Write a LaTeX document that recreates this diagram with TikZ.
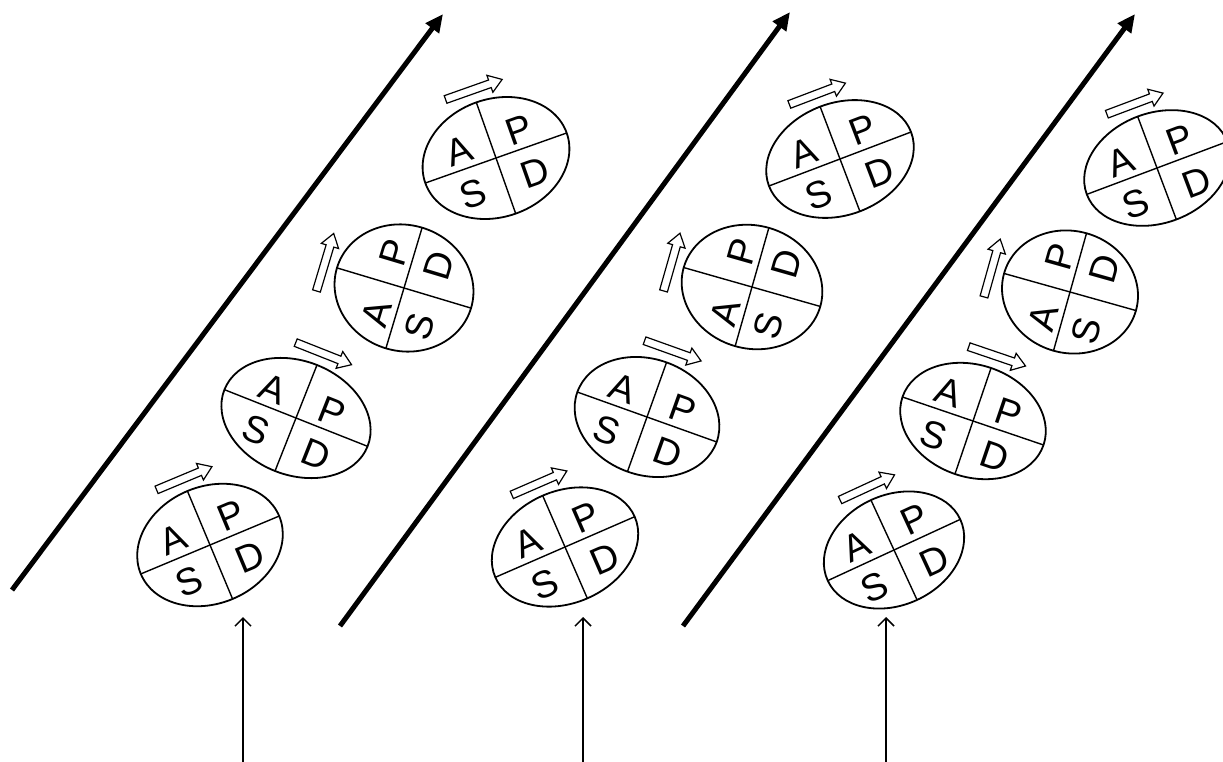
\documentclass[tikz,border=0pt]{standalone}
\usepackage{fontspec}
\setmainfont{Liberation Sans}
\usetikzlibrary{arrows.meta}

\tikzset{
  cellline/.style={line width=1.8pt},
  divline/.style={line width=1.4pt},
  letter/.style={font=\fontsize{38}{38}\selectfont, inner sep=0pt, transform shape},
  turnarrow/.style={line width=1.2pt, fill=white, line join=miter},
  trendarrow/.style={line width=5pt, -{Triangle[length=18pt,width=16pt]}},
  inputarrow/.style={line width=1.5pt, -{Straight Barb[length=8pt,width=16pt]}},
}

% One PDSA cycle: name, centre, tilt, x radius, y radius
\newcommand\pdsacell[5]{%
  \begin{scope}[shift={#2}, rotate=#3]
    \draw[cellline] (0,0) ellipse [x radius=#4pt, y radius=#5pt];
    \draw[divline] (-#4,0) -- (#4,0);
    \draw[divline] (0,-#5) -- (0,#5);
    \node[letter] (#1-A) at (-32,19) {A};
    \node[letter] (#1-P) at (31,19) {P};
    \node[letter] (#1-S) at (-33,-26) {S};
    \node[letter] (#1-D) at (32,-27) {D};
    \draw[turnarrow] (-28,#5+9) -- (19,#5+9) -- (19,#5+4) -- (32,#5+13)
      -- (19,#5+22) -- (19,#5+17) -- (-28,#5+17) -- cycle;
  \end{scope}}

\begin{document}
\begin{tikzpicture}[x=1pt, y=1pt]
  \fill[white] (0,0) rectangle (1223,-762);
  \useasboundingbox (0,0) rectangle (1223,-762);

  % improvement trends
  \coordinate (t1s) at (12,-590);   \coordinate (t1e) at (443,-14);
  \coordinate (t2s) at (340,-626);  \coordinate (t2e) at (790,-12);
  \coordinate (t3s) at (683,-626);  \coordinate (t3e) at (1135,-14);
  \draw[trendarrow] (t1s) -- (t1e);
  \draw[trendarrow] (t2s) -- (t2e);
  \draw[trendarrow] (t3s) -- (t3e);

  % inputs from below
  \coordinate (i1s) at (243,-762);  \coordinate (i1e) at (243,-617);
  \coordinate (i2s) at (583,-762);  \coordinate (i2e) at (583,-617);
  \coordinate (i3s) at (886,-762);  \coordinate (i3e) at (886,-617);
  \draw[inputarrow] (i1s) -- (i1e);
  \draw[inputarrow] (i2s) -- (i2e);
  \draw[inputarrow] (i3s) -- (i3e);

  % first ramp
  \pdsacell{a1}{(210,-545)}{22.7}{75}{58.5}
  \pdsacell{a2}{(296,-418)}{-21.6}{77}{57}
  \pdsacell{a3}{(404,-288)}{73.3}{63}{70}
  \pdsacell{a4}{(496,-158)}{19.5}{75}{59}

  % second ramp
  \pdsacell{b1}{(565,-547)}{23.5}{76}{56}
  \pdsacell{b2}{(647,-417)}{-19.7}{74}{58}
  \pdsacell{b3}{(752,-287)}{74.1}{61.5}{71}
  \pdsacell{b4}{(840,-159)}{20.8}{76}{56}

  % third ramp
  \pdsacell{c1}{(894,-550)}{24.8}{73}{55}
  \pdsacell{c2}{(973,-421)}{-18.8}{74.5}{56}
  \pdsacell{c3}{(1070,-292)}{74.3}{61}{68.5}
  \pdsacell{c4}{(1157,-168)}{20.6}{75}{55}
\end{tikzpicture}
\end{document}
